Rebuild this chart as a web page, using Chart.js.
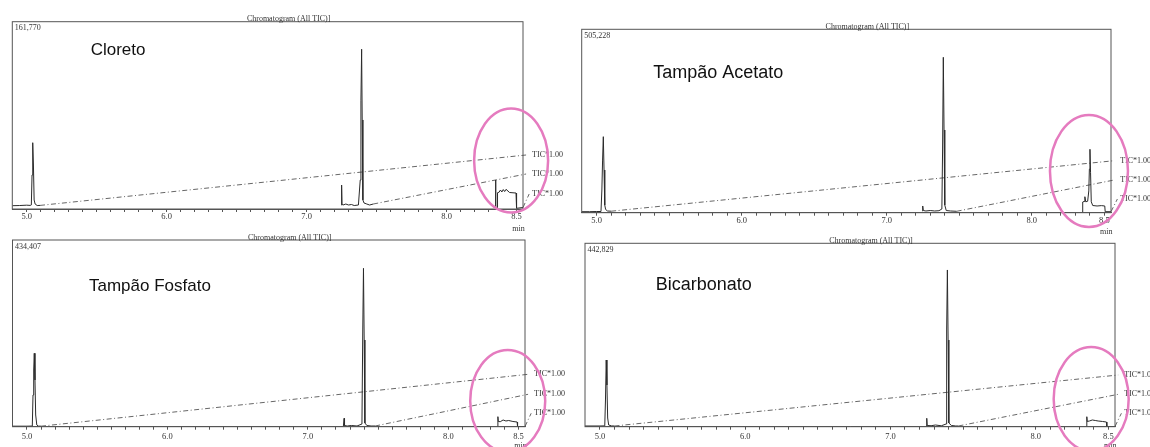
<!DOCTYPE html>
<html>
<head>
<meta charset="utf-8">
<script src="https://cdn.jsdelivr.net/npm/chart.js@4.4.1/dist/chart.umd.min.js"></script>
<style>
  html, body { margin: 0; padding: 0; background: #fff; }
  body { width: 1150px; height: 447px; position: relative; overflow: hidden; }
  canvas { position: absolute; }
</style>
</head>
<body>
<canvas id="c0" width="575" height="240" style="left:0;top:0"></canvas>
<canvas id="c1" width="575" height="245" style="left:575px;top:0"></canvas>
<canvas id="c2" width="575" height="222" style="left:0;top:225px"></canvas>
<canvas id="c3" width="575" height="222" style="left:575px;top:225px"></canvas>
<script>
// DATA (retention time in min, intensity in counts)
const samples = ["Cloreto", "Tampão Acetato", "Tampão Fosfato", "Bicarbonato"];
const fullScale = [161770, 505228, 434407, 442829];

const tickLabels = ["5.0", "6.0", "7.0", "8.0", "8.5"];
const traceLabel = "TIC*1.00";
const leaderEndTime = [8.568, 8.568, 8.59];

// Cloreto: three TIC segments
const cloretoTimes = [
  [4.897, 4.95, 5.0, 5.025, 5.033, 5.038, 5.043, 5.048, 5.053, 5.06, 5.075, 5.095],
  [7.246, 7.25, 7.253, 7.26, 7.28, 7.30, 7.32, 7.34, 7.37, 7.383, 7.388, 7.393, 7.397, 7.402, 7.41, 7.43, 7.45, 7.476],
  [8.348, 8.35, 8.352, 8.362, 8.364, 8.375, 8.385, 8.395, 8.405, 8.415, 8.425, 8.45, 8.496, 8.5, 8.546]
];
const cloretoCounts = [
  [2850, 3000, 3300, 3100, 3500, 29400, 57260, 38000, 7800, 4300, 3000, 3100],
  [3500, 20700, 4000, 3450, 4300, 3450, 3900, 3000, 3450, 25000, 94000, 138000, 76900, 7800, 5200, 4300, 3450, 4300],
  [860, 25050, 860, 860, 14080, 14500, 16400, 14700, 16800, 15100, 17000, 14250, 13800, 600, 1300]
];

// Tampão Acetato
const acetatoTimes = [
  [4.897, 4.95, 5.0, 5.03, 5.036, 5.041, 5.046, 5.051, 5.056, 5.062, 5.075, 5.1],
  [7.245, 7.248, 7.252, 7.27, 7.30, 7.33, 7.36, 7.38, 7.385, 7.39, 7.395, 7.40, 7.41, 7.44, 7.482],
  [8.349, 8.351, 8.36, 8.366, 8.372, 8.385, 8.393, 8.397, 8.401, 8.405, 8.41, 8.42, 8.45, 8.48, 8.503, 8.506, 8.546]
];
const acetatoCounts = [
  [2750, 2750, 3300, 3300, 62500, 145000, 209400, 117600, 21200, 8800, 4700, 4100],
  [4700, 18500, 6000, 4700, 6000, 4700, 5500, 10200, 172700, 428100, 227800, 21200, 6000, 4700, 3900],
  [2000, 29500, 31000, 44000, 30000, 31500, 60000, 120000, 174700, 110000, 30000, 19800, 18500, 19500, 18500, 2750, 2750]
];

// Tampão Fosfato
const fosfatoTimes = [
  [4.897, 5.0, 5.038, 5.043, 5.048, 5.052, 5.057, 5.062, 5.07, 5.08, 5.1],
  [7.253, 7.258, 7.261, 7.28, 7.31, 7.35, 7.385, 7.391, 7.396, 7.401, 7.406, 7.42, 7.45, 7.479],
  [8.351, 8.353, 8.356, 8.37, 8.39, 8.41, 8.43, 8.46, 8.49, 8.493, 8.546]
];
const fosfatoCounts = [
  [1200, 1200, 1500, 73800, 131900, 170800, 108700, 27200, 4000, 1400, 1200],
  [1600, 19500, 2800, 1600, 2800, 1600, 6300, 225000, 368500, 201700, 8600, 2800, 1600, 1600],
  [500, 23300, 12100, 11600, 15600, 13300, 14400, 12100, 10900, 0, 500]
];

// Bicarbonato
const bicarbonatoTimes = [
  [4.897, 5.0, 5.033, 5.038, 5.043, 5.048, 5.053, 5.06, 5.08, 5.1],
  [7.246, 7.25, 7.253, 7.28, 7.31, 7.35, 7.383, 7.387, 7.392, 7.397, 7.402, 7.42, 7.45, 7.468],
  [8.348, 8.352, 8.355, 8.37, 8.39, 8.41, 8.43, 8.46, 8.487, 8.49, 8.546]
];
const bicarbonatoCounts = [
  [1700, 1700, 2000, 64500, 161000, 100700, 21000, 4100, 1900, 1700],
  [1700, 20300, 2900, 2400, 4100, 2200, 6500, 233500, 378400, 209300, 8900, 2900, 1700, 1700],
  [500, 24100, 12600, 13800, 16200, 15000, 13800, 12600, 11300, 0, 500]
];

// level where each TIC*1.00 label sits (counts)
const labelLevels = [
  [46640, 30230, 12960],
  [143250, 90080, 37700],
  [121900, 75400, 31200],
  [124800, 78200, 32400]
];

// highlighted region (pink circle) centre
const circleTime = [8.461, 8.394, 8.423, 8.382];
const circleCounts = [41890, 114900, 59800, 66900];

const allTimes = [cloretoTimes, acetatoTimes, fosfatoTimes, bicarbonatoTimes];
const allCounts = [cloretoCounts, acetatoCounts, fosfatoCounts, bicarbonatoCounts];

// LAYOUT (pixels)
const panels = [
  { pad: { left: 12.3, top: 21.7, right: 52, bottom: 11 },  tickPad: 0, nameSize: 17, nameDx: 78.4, nameDy: 28.3, rx: 37,   ry: 52 },
  { pad: { left: 6.7,  top: 29.3, right: 39, bottom: 12.3 }, tickPad: 0, nameSize: 18, nameDx: 71.6, nameDy: 43.4, rx: 39,   ry: 56 },
  { pad: { left: 12.5, top: 15,   right: 50, bottom: 0.3 },  tickPad: 2, nameSize: 17, nameDx: 76.5, nameDy: 46.7, rx: 37.5, ry: 51 },
  { pad: { left: 10,   top: 18.3, right: 35, bottom: 0.3 },  tickPad: 2, nameSize: 18, nameDx: 70.7, nameDy: 41.7, rx: 37.5, ry: 52 }
];

const serif = '"Liberation Serif", "DejaVu Serif", serif';
const sans = '"Liberation Sans", Arial, sans-serif';

const minuteTicks = [];
for (let i = 50; i <= 85; i++) minuteTicks.push(i / 10);

// draws frame, texts and the pink circle
const decorPlugin = {
  id: "decor",
  afterDraw(chart, args, opts) {
    const i = opts.index;
    const p = panels[i];
    const ctx = chart.ctx;
    const a = chart.chartArea;
    const x = chart.scales.x;
    const y = chart.scales.y;

    ctx.save();

    ctx.strokeStyle = "#555";
    ctx.lineWidth = 1;
    ctx.strokeRect(a.left, a.top, a.right - a.left, a.bottom - a.top);

    ctx.fillStyle = "#333";
    ctx.font = "8px " + serif;
    ctx.textAlign = "center";
    ctx.textBaseline = "alphabetic";
    ctx.fillText("Chromatogram (All TIC)]", (a.left + a.right) / 2 + 21, a.top - 0.5);

    ctx.textAlign = "left";
    ctx.textBaseline = "middle";
    ctx.fillText(fullScale[i].toLocaleString("en-US"), a.left + 2.5, a.top + 6.5);

    ctx.textAlign = "center";
    ctx.fillText("min", x.getPixelForValue(8.5) + 2, a.bottom + 19.5);

    ctx.textAlign = "left";
    const labelX = x.getPixelForValue(leaderEndTime[0]) + 6;
    labelLevels[i].forEach(level => {
      ctx.fillText(traceLabel, labelX, y.getPixelForValue(level));
    });

    ctx.fillStyle = "#111";
    ctx.font = p.nameSize + "px " + sans;
    ctx.fillText(samples[i], a.left + p.nameDx, a.top + p.nameDy);

    ctx.strokeStyle = "#e57bbf";
    ctx.lineWidth = 2.5;
    ctx.beginPath();
    ctx.ellipse(
      x.getPixelForValue(circleTime[i]),
      y.getPixelForValue(circleCounts[i]),
      p.rx, p.ry, 0, 0, Math.PI * 2
    );
    ctx.stroke();

    ctx.restore();
  }
};

function buildDatasets(i) {
  const times = allTimes[i];
  const counts = allCounts[i];
  const datasets = [];

  // the three TIC traces
  times.forEach((seg, k) => {
    datasets.push({
      data: seg.map((t, j) => ({ x: t, y: counts[k][j] })),
      borderColor: "#2b2b2b",
      borderWidth: 1,
      pointRadius: 0,
      tension: 0
    });
  });

  // dash-dot leaders from each trace end to its label
  times.forEach((seg, k) => {
    const last = seg.length - 1;
    datasets.push({
      data: [
        { x: seg[last], y: counts[k][last] },
        { x: leaderEndTime[k], y: labelLevels[i][k] }
      ],
      borderColor: "#666",
      borderWidth: 1,
      borderDash: [5, 2.5, 1, 2.5],
      pointRadius: 0,
      clip: false
    });
  });

  return datasets;
}

samples.forEach((name, i) => {
  const p = panels[i];
  new Chart(document.getElementById("c" + i), {
    type: "line",
    data: { datasets: buildDatasets(i) },
    options: {
      responsive: false,
      devicePixelRatio: 1,
      animation: false,
      events: [],
      layout: { padding: p.pad },
      plugins: {
        legend: { display: false },
        tooltip: { enabled: false },
        title: { display: false },
        decor: { index: i }
      },
      scales: {
        x: {
          type: "linear",
          min: 4.897,
          max: 8.546,
          afterBuildTicks: axis => {
            axis.ticks = minuteTicks.map(v => ({ value: v }));
          },
          afterFit: axis => {
            axis.height = 20;
          },
          ticks: {
            autoSkip: false,
            maxRotation: 0,
            padding: p.tickPad,
            color: "#333",
            font: { family: serif, size: 8.5 },
            callback: value => {
              const s = (Math.round(value * 10) / 10).toFixed(1);
              return tickLabels.includes(s) ? s : "";
            }
          },
          grid: {
            drawOnChartArea: false,
            tickLength: 3,
            color: "#555"
          },
          border: { display: true, color: "#555" }
        },
        y: {
          display: false,
          min: 0,
          max: fullScale[i]
        }
      }
    },
    plugins: [decorPlugin]
  });
});
</script>
</body>
</html>
